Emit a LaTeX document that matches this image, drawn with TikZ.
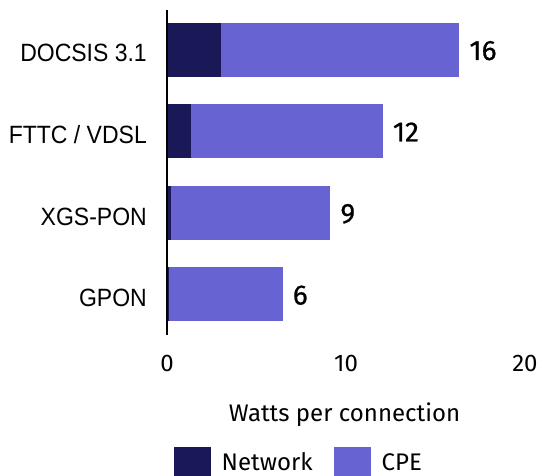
\documentclass[tikz,border=0pt]{standalone}
\usepackage{fontspec}
\newfontfamily\catfont[FakeStretch=0.92]{Liberation Sans}
\newfontfamily\numfont{Fira Sans}
\newfontfamily\valfont[FakeBold=0.7]{Fira Sans}
\definecolor{netcol}{RGB}{27,24,88}
\definecolor{cpecol}{RGB}{103,99,210}

\begin{document}
\begin{tikzpicture}[x=1pt,y=-1pt,
  netbar/.style={fill=netcol,draw=none},
  cpebar/.style={fill=cpecol,draw=none},
  catlabel/.style={anchor=base east,inner sep=0pt,font=\catfont\fontsize{25}{30}\selectfont},
  vallabel/.style={anchor=base west,inner sep=0pt,font=\valfont\fontsize{28}{32}\selectfont},
  ticklabel/.style={anchor=base,inner sep=0pt,font=\numfont\fontsize{24}{28}\selectfont},
  legtext/.style={anchor=base west,inner sep=0pt,font=\numfont\fontsize{24}{28}\selectfont},
  axisline/.style={draw=black,line width=1.8pt}]
\useasboundingbox (0,0) rectangle (541,476);

% scale: 17.9 units of length per watt, zero at x = 167
\def\xz{167}
\def\sc{17.9}
\def\bh{27}

% DOCSIS 3.1
\fill[cpebar] ({\xz+3.02*\sc},50-\bh) rectangle ({\xz+16.33*\sc},50+\bh);
\fill[netbar] (\xz,50-\bh) rectangle ({\xz+3.02*\sc},50+\bh);
\node[catlabel] (lA) at (147,62) {DOCSIS 3.1};
\node[vallabel] (vA) at ({\xz+16.33*\sc+10},60) {16};

% FTTC / VDSL
\fill[cpebar] ({\xz+1.32*\sc},131.3-\bh) rectangle ({\xz+12.05*\sc},131.3+\bh);
\fill[netbar] (\xz,131.3-\bh) rectangle ({\xz+1.32*\sc},131.3+\bh);
\node[catlabel] (lB) at (147,143.3) {FTTC / VDSL};
\node[vallabel] (vB) at ({\xz+12.05*\sc+10},141.5) {12};

% XGS-PON
\fill[cpebar] ({\xz+0.2*\sc},212.8-\bh) rectangle ({\xz+9.12*\sc},212.8+\bh);
\fill[netbar] (\xz,212.8-\bh) rectangle ({\xz+0.2*\sc},212.8+\bh);
\node[catlabel] (lC) at (147,225.7) {XGS-PON};
\node[vallabel] (vC) at ({\xz+9.12*\sc+10},223) {9};

% GPON
\fill[cpebar] ({\xz+0.13*\sc},294.3-\bh) rectangle ({\xz+6.46*\sc},294.3+\bh);
\fill[netbar] (\xz,294.3-\bh) rectangle ({\xz+0.13*\sc},294.3+\bh);
\node[catlabel] (lD) at (147,306.5) {GPON};
\node[vallabel] (vD) at ({\xz+6.46*\sc+10},304.5) {6};

% vertical axis
\draw[axisline] (\xz,10) -- (\xz,335);

% tick labels
\node[ticklabel] (t0) at (\xz,371.7) {0};
\node[ticklabel] (t10) at ({\xz+10*\sc},371.7) {10};
\node[ticklabel] (t20) at ({\xz+20*\sc},371.7) {20};

% axis title
\node[ticklabel] (xtitle) at (344.5,421.7) {Watts per connection};

% legend
\fill[netcol] (174,446.7) rectangle (211,476);
\node[legtext] (lgN) at (221.5,470.5) {Network};
\fill[cpecol] (334,446.7) rectangle (371,476);
\node[legtext] (lgC) at (381.5,470.5) {CPE};
\end{tikzpicture}
\end{document}
